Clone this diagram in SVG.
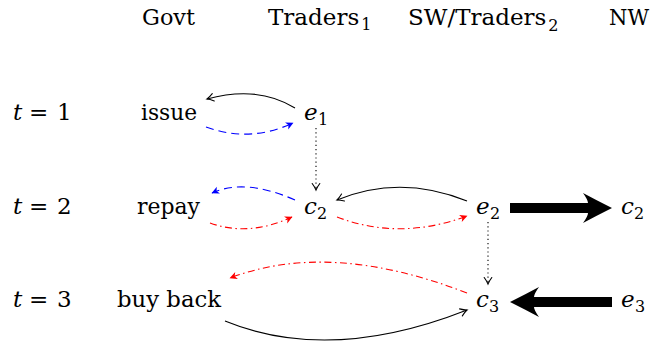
<svg xmlns="http://www.w3.org/2000/svg" width="656" height="348" viewBox="0 0 656 348">
<style>
text{font-family:"DejaVu Serif",serif;font-size:23px;fill:#000}
.it{font-style:italic}
.sub{font-size:16px;font-style:normal}
.c{fill:none;stroke-width:1.1}
.k{stroke:#000}
.b{stroke:#0000ff;stroke-dasharray:8 5}
.r{stroke:#ff0000;stroke-dasharray:7 3.5 1.5 3.5}
.d{stroke:#000;stroke-dasharray:1.2 3}
.thick{fill:#000;stroke:none}
</style>
<defs>
<marker id="ak" markerUnits="userSpaceOnUse" viewBox="-10 -6 12 12" refX="0" refY="0" markerWidth="12" markerHeight="12" orient="auto" overflow="visible">
<path d="M-6.5,-3.8 Q-2.5,-0.9 0,0 Q-2.5,0.9 -6.5,3.8" fill="none" stroke="#000" stroke-width="1.1" stroke-linecap="round"/>
</marker>
<marker id="ab" markerUnits="userSpaceOnUse" viewBox="-10 -6 12 12" refX="0" refY="0" markerWidth="12" markerHeight="12" orient="auto" overflow="visible">
<path d="M0.5,0 L-7,-3.8 L-5,0 L-7,3.8 Z" fill="#0000ff"/>
</marker>
<marker id="ar" markerUnits="userSpaceOnUse" viewBox="-10 -6 12 12" refX="0" refY="0" markerWidth="12" markerHeight="12" orient="auto" overflow="visible">
<path d="M0.5,0 L-7,-3.8 L-5,0 L-7,3.8 Z" fill="#ff0000"/>
</marker>
</defs>

<g id="headers">
<g id="h-govt"><text x="142" y="25" textLength="53" lengthAdjust="spacingAndGlyphs">Govt</text></g>
<g id="h-traders1"><text x="268" y="25" font-size="19">Traders<tspan class="sub" dx="2" dy="5">1</tspan></text></g>
<g id="h-sw"><text x="408" y="25" font-size="23.5">SW/Traders<tspan class="sub" dx="2" dy="6">2</tspan></text></g>
<g id="h-nw"><text x="609" y="25" font-size="22" textLength="40" lengthAdjust="spacingAndGlyphs">NW</text></g>
</g>

<g id="times">
<g id="t1"><text y="120" font-size="24"><tspan class="it" x="13">t</tspan><tspan x="29">=</tspan><tspan x="57">1</tspan></text></g>
<g id="t2"><text y="214" font-size="24"><tspan class="it" x="13">t</tspan><tspan x="29">=</tspan><tspan x="57">2</tspan></text></g>
<g id="t3"><text y="307" font-size="24"><tspan class="it" x="13">t</tspan><tspan x="29">=</tspan><tspan x="57">3</tspan></text></g>
</g>

<g id="n-issue"><text x="141" y="120" textLength="56" lengthAdjust="spacingAndGlyphs">issue</text></g>
<g id="n-repay"><text x="137" y="214" textLength="63" lengthAdjust="spacingAndGlyphs">repay</text></g>
<g id="n-buyback"><text x="117" y="307" textLength="104" lengthAdjust="spacingAndGlyphs">buy back</text></g>
<g id="n-e1"><text class="it" x="304" y="120">e</text><text class="sub" x="318" y="125">1</text></g>
<g id="n-c2a"><text class="it" x="304" y="214">c</text><text class="sub" x="317" y="219">2</text></g>
<g id="n-e2"><text class="it" x="476" y="214">e</text><text class="sub" x="490" y="219">2</text></g>
<g id="n-c2b"><text class="it" x="621" y="214">c</text><text class="sub" x="634" y="219">2</text></g>
<g id="n-c3"><text class="it" x="476" y="307">c</text><text class="sub" x="489" y="312">3</text></g>
<g id="n-e3"><text class="it" x="621" y="307">e</text><text class="sub" x="635" y="312">3</text></g>

<g id="connectors">
<path class="c k" d="M295,108 Q258,85 207,99" marker-end="url(#ak)"/>
<path class="c b" d="M206,127 Q250,143 293,123" marker-end="url(#ab)"/>
<path class="c d" d="M316,128 L316,190" marker-end="url(#ak)"/>
<path class="c b" d="M295,200 Q245,178 212,193" marker-end="url(#ab)"/>
<path class="c r" d="M210,223 Q249,237 292,217" marker-end="url(#ar)"/>
<path class="c k" d="M467,201 Q400,174 337,200" marker-end="url(#ak)"/>
<path class="c r" d="M337,217 Q400,241 467,216" marker-end="url(#ar)"/>
<path class="c d" d="M488,222 L488,284" marker-end="url(#ak)"/>
<path class="c r" d="M467,293 Q330,240 230,278" marker-end="url(#ar)"/>
<path class="c k" d="M225,321 Q330,364 467,310" marker-end="url(#ak)"/>
<path class="thick" d="M612,208 Q596,200 583,193 Q588,200 588,203 L510,203 L510,213 L588,213 Q588,216 583,223 Q596,216 612,208 Z"/>
<path class="thick" d="M510,302 Q526,294 539,287 Q534,294 534,297 L612,297 L612,307 L534,307 Q534,310 539,317 Q526,310 510,302 Z"/>
</g>
</svg>
